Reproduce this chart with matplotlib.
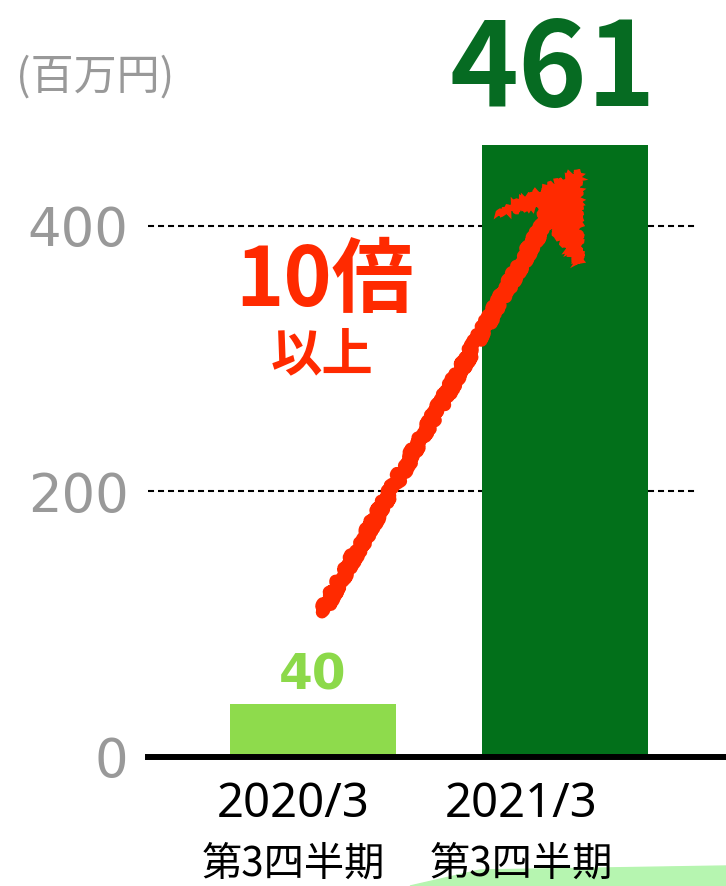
import matplotlib; matplotlib.use("Agg")
import matplotlib.pyplot as plt
from matplotlib.patches import Polygon

# ---- data ----
periods = ["2020/3", "2021/3"]
quarters = ["第3四半期", "第3四半期"]
values = [40, 461]
yticks = [0, 200, 400]
unit_label = "(百万円)"
note_big, note_small = "10倍", "以上"

bar_colors = ["#8edb4c", "#02701a"]
value_colors = ["#8cd94a", "#066b22"]
red = "#ff2a00"
grey = "#999999"
cjk = ["Noto Sans CJK JP", "DejaVu Sans"]

W, H = 726, 886
fig = plt.figure(figsize=(W / 100, H / 100), dpi=100)

# light green shape in the bottom-right corner (behind everything)
fig.patches.append(Polygon([(410 / W, 0), (480 / W, 16 / H), (1, 20 / H), (1, 0)],
                           closed=True, transform=fig.transFigure, color="#b6f5b0", zorder=-5))

ax = fig.add_axes([148 / W, (H - 757) / H, 547 / W, 637.4 / H])
ax.patch.set_alpha(0)

x = list(range(len(values)))
ax.bar(x, values, width=0.657, color=bar_colors, zorder=2)
ax.set_xlim(-0.653, 1.513)
ax.set_ylim(0, 480)

for s in ax.spines.values():
    s.set_visible(False)
ax.set_xticks([])
ax.set_yticks(yticks)
ax.set_yticklabels([str(v) for v in yticks], fontsize=38, color=grey, family="DejaVu Sans")
ax.tick_params(axis="y", length=0, pad=14)

for v in yticks[1:]:
    ax.axhline(v, color="black", lw=1.5, ls=(0, (2.9, 1.9)), zorder=1)
ax.axhline(0, xmax=1.057, color="black", lw=4.3, zorder=3, clip_on=False)

# value labels
ax.annotate(str(values[0]), (x[0], values[0]), xytext=(0, 10), textcoords="offset points",
            ha="center", va="baseline", fontsize=35, fontweight="bold",
            color=value_colors[0], family="DejaVu Sans")
ax.annotate(str(values[1]), (x[1], values[1]), xytext=(-9, 28), textcoords="offset points",
            ha="center", va="baseline", fontsize=84, fontweight="bold",
            color=value_colors[1], family=cjk, annotation_clip=False)

# category labels
label_dx = [-0.079, -0.176]
for i, (p, q) in enumerate(zip(periods, quarters)):
    ax.text(x[i] + label_dx[i], -36, p, ha="center", va="center", fontsize=34,
            family="Noto Sans", clip_on=False, zorder=5)
    ax.text(x[i] + label_dx[i], -81, q, ha="center", va="center", fontsize=29,
            family=cjk, clip_on=False, zorder=5)

fig.text(16 / W, 1 - 78 / H, unit_label, ha="left", va="center", fontsize=31,
         color=grey, family=cjk)

# hand-drawn red arrow
tail = (0.036, 109)
neck = (0.97, 420)
tip = (1.05, 441)
barb1 = (0.729, 409)
barb2 = (1.057, 372)
ln, = ax.plot([tail[0], neck[0]], [tail[1], neck[1]], color=red, lw=9,
              solid_capstyle="round", zorder=4)
ln.set_sketch_params(scale=4, length=10, randomness=10)
head = Polygon([tip, barb1, (0.88, 415), barb2], closed=True, color=red, lw=3, zorder=4)
head.set_sketch_params(scale=3, length=8, randomness=10)
ax.add_patch(head)

fig.text(325 / W, 1 - 282 / H, note_big, ha="center", va="center", fontsize=59,
         fontweight="bold", color=red, family=cjk)
fig.text(322 / W, 1 - 355 / H, note_small, ha="center", va="center", fontsize=37,
         fontweight="bold", color=red, family=cjk)

fig.savefig("out.png", dpi=100, facecolor="white")
